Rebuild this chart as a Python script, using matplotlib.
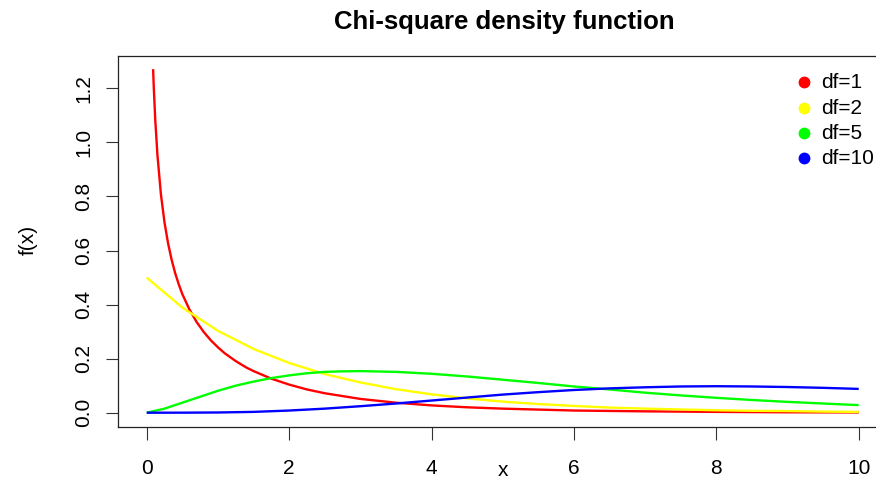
import matplotlib
matplotlib.use("Agg")
import matplotlib.pyplot as plt
from matplotlib.lines import Line2D

plt.rcParams["font.family"] = ["Liberation Sans", "DejaVu Sans"]

# values
x_df1 = [0.09, 0.1, 0.12, 0.15, 0.2, 0.25, 0.3, 0.35, 0.4, 0.45, 0.5, 0.6, 0.7, 0.8, 0.9, 1.0, 1.1,
         1.25, 1.4, 1.5, 1.75, 2.0, 2.25, 2.5, 3.0, 3.5, 4.0, 4.5, 5.0, 6.0, 7.0, 8.0, 9.0, 10.0]
y_df1 = [1.271, 1.200, 1.085, 0.956, 0.807, 0.704, 0.627, 0.566, 0.516, 0.475, 0.439, 0.382, 0.336,
         0.299, 0.268, 0.242, 0.219, 0.191, 0.167, 0.154, 0.126, 0.104, 0.086, 0.072, 0.051, 0.037,
         0.027, 0.020, 0.015, 0.008, 0.005, 0.003, 0.0015, 0.001]

x_half = [0.0, 0.5, 1.0, 1.5, 2.0, 2.5, 3.0, 3.5, 4.0, 4.5, 5.0, 5.5, 6.0, 6.5, 7.0, 7.5, 8.0,
          8.5, 9.0, 9.5, 10.0]
y_df2 = [0.500, 0.389, 0.303, 0.236, 0.184, 0.143, 0.112, 0.087, 0.068, 0.053, 0.041, 0.032, 0.025,
         0.019, 0.015, 0.012, 0.009, 0.007, 0.006, 0.004, 0.003]
y_df10 = [0.0, 0.0001, 0.0008, 0.003, 0.008, 0.015, 0.024, 0.034, 0.045, 0.056, 0.067, 0.076, 0.084,
          0.090, 0.094, 0.097, 0.098, 0.097, 0.095, 0.092, 0.088]

x_df5 = [0.0, 0.25, 0.5, 0.75, 1.0, 1.25, 1.5, 1.75, 2.0, 2.25, 2.5, 2.75, 3.0, 3.5, 4.0, 4.5, 5.0,
         5.5, 6.0, 6.5, 7.0, 7.5, 8.0, 8.5, 9.0, 9.5, 10.0]
y_df5 = [0.0, 0.015, 0.037, 0.059, 0.081, 0.100, 0.115, 0.128, 0.138, 0.146, 0.151, 0.153, 0.154,
         0.151, 0.144, 0.134, 0.122, 0.110, 0.097, 0.086, 0.074, 0.064, 0.055, 0.047, 0.040, 0.034,
         0.028]

labels = ["df=1", "df=2", "df=5", "df=10"]
colors = ["#ff0000", "#ffff00", "#00ff00", "#0000ff"]
xticks = [0, 2, 4, 6, 8, 10]
yticks = [0.0, 0.2, 0.4, 0.6, 0.8, 1.0, 1.2]

W, H = 876, 483
fig = plt.figure(figsize=(W / 100, H / 100), dpi=100)
ax = fig.add_axes([118 / W, 56.3 / H, (887.2 - 118) / W, (426.7 - 55.7) / H])

series = [(x_df1, y_df1), (x_half, y_df2), (x_df5, y_df5), (x_half, y_df10)]
for (xs, ys), c in zip(series, colors):
    ax.plot(xs, ys, color=c, lw=1.7, solid_capstyle="butt")

ax.set_xlim(-0.403, 10.4)
ax.set_ylim(-0.0518, 1.3207)
ax.set_xticks(xticks)
ax.set_yticks(yticks)
ax.set_yticklabels([f"{v:.1f}" for v in yticks], rotation=90, va="center")
ax.tick_params(axis="x", length=9, width=0.8, pad=14, labelsize=15, color="#333333")
ax.tick_params(axis="y", length=9, width=0.8, pad=9, labelsize=15, color="#333333")
for s in ax.spines.values():
    s.set_linewidth(0.9)
    s.set_color("#222222")

# axis titles and main title placed like R's base graphics
fig.text(503 / W, 1 - 476 / H, "x", fontsize=15, ha="center", va="baseline")
fig.text(28 / W, 1 - 240 / H, "f(x)", fontsize=15, ha="center", va="center", rotation=90)
fig.text(504 / W, 1 - 29 / H, "Chi-square density function", fontsize=18.5, fontweight="bold",
         ha="center", va="baseline")

# legend without box (bty = "n")
row_y = [82.3, 108.0, 133.3, 158.3]
for lab, c, ry in zip(labels, colors, row_y):
    fig.add_artist(Line2D([804 / W], [1 - ry / H], transform=fig.transFigure, marker="o",
                          ls="none", color=c, markersize=7.5))
    fig.text(821 / W, 1 - ry / H, lab, fontsize=15, ha="left", va="center")

fig.savefig("out.png", dpi=100)
